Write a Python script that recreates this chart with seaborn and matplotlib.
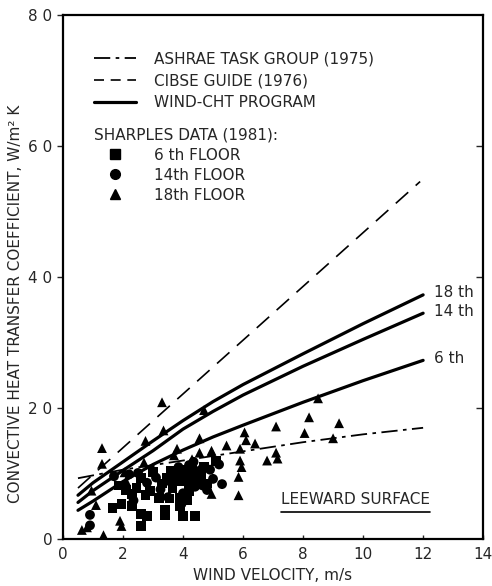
import matplotlib
matplotlib.use("Agg")
import matplotlib.pyplot as plt
import seaborn as sns
import pandas as pd
from matplotlib.lines import Line2D

# --- curves ---
ashrae_v = [0.5, 2, 4, 6, 8, 10, 12]
ashrae_h = [9.3, 10.6, 12.0, 13.4, 14.8, 16.0, 17.0]

cibse_v = [0.5, 11.9]
cibse_h = [7.8, 54.6]

cht_v = [0.5, 1, 2, 3, 4, 5, 6, 8, 10, 12]
cht_18 = [6.7, 8.6, 11.8, 15.0, 18.1, 21.0, 23.6, 28.3, 32.9, 37.3]
cht_14 = [5.6, 7.4, 10.5, 13.5, 16.8, 19.5, 22.0, 26.4, 30.5, 34.5]
cht_6 = [4.4, 5.8, 8.8, 11.4, 13.6, 15.6, 17.4, 20.9, 24.2, 27.3]

# --- Sharples data (1981) ---
f6_v = [1.65, 1.95, 2.3, 2.6, 2.8, 2.6, 3.4, 4.0, 4.4, 2.45, 2.9, 3.45, 3.3, 3.65,
        3.8, 4.0, 4.1, 4.3, 4.45, 3.2, 2.3, 2.1, 3.55, 3.9, 3.9, 4.2, 4.5, 4.7,
        3.0, 2.6, 1.85, 4.15, 4.8, 3.6, 5.1, 3.4, 4.05, 4.25, 3.75, 2.75, 4.6]
f6_h = [4.8, 5.4, 5.1, 3.8, 3.5, 2.0, 3.7, 3.5, 3.5, 7.8, 7.4, 9.4, 8.5, 7.8,
        8.9, 10.5, 8.9, 10.5, 8.9, 6.3, 6.9, 7.5, 6.2, 6.3, 5.1, 7.4, 9.6, 11.1,
        10.2, 9.3, 8.2, 6.0, 8.5, 10.4, 11.9, 4.4, 9.6, 9.2, 9.8, 6.8, 10.0]

f14_v = [0.9, 0.9, 2.35, 3.4, 2.5, 3.9, 4.2, 4.6, 5.0, 4.4, 3.6, 3.1, 5.2, 4.0,
         4.8, 2.8, 4.9, 5.3, 3.95, 3.5, 1.7, 2.2, 4.35, 3.85, 4.65, 3.25]
f14_h = [3.7, 2.1, 5.9, 4.4, 10.1, 9.9, 11.3, 10.6, 9.2, 8.0, 8.7, 9.4, 11.4, 7.0,
         7.5, 8.6, 10.6, 8.4, 5.4, 6.4, 9.6, 9.9, 11.8, 11.0, 8.2, 7.6]

f18_v = [1.3, 1.3, 0.95, 0.63, 0.8, 1.35, 3.3, 4.7, 3.35, 2.75, 2.7, 2.1, 1.9, 1.95,
         3.8, 4.55, 4.55, 4.95, 5.45, 6.05, 6.1, 6.4, 5.9, 5.9, 5.95, 5.85, 5.85,
         4.95, 7.1, 8.2, 8.05, 8.5, 9.2, 9.0, 7.1, 6.8, 7.15, 4.95, 3.0, 2.05, 1.1,
         3.7, 4.3]
f18_h = [13.9, 11.5, 7.4, 1.4, 1.8, 0.6, 20.9, 19.7, 16.6, 15.0, 11.7, 8.9, 2.8, 2.0,
         13.8, 15.4, 13.2, 13.3, 14.3, 16.3, 15.1, 14.6, 13.8, 12.0, 11.0, 9.5, 6.7,
         6.9, 17.2, 18.6, 16.2, 21.5, 17.7, 15.4, 13.2, 12.0, 12.3, 13.5, 10.8, 10.2,
         5.2, 12.8, 12.2]

y_ticks = [0, 20, 40, 60, 80]
y_ticklabels = ["0", "2 0", "4 0", "6 0", "8 0"]
x_ticks = [0, 2, 4, 6, 8, 10, 12, 14]

sns.set_theme(style="white")
plt.rcParams["font.family"] = ["DejaVu Sans"]
plt.rcParams["font.size"] = 11

fig = plt.figure(figsize=(4.92, 5.86), dpi=100)
ax = fig.add_axes([0.128, 0.080, 0.854, 0.894])

# model curves
sns.lineplot(x=ashrae_v, y=ashrae_h, ax=ax, color="black", lw=1.3,
             linestyle=(0, (9, 3, 2, 3)), estimator=None, sort=False)
sns.lineplot(x=cibse_v, y=cibse_h, ax=ax, color="black", lw=1.2,
             linestyle=(0, (10, 6)), estimator=None, sort=False)
for h in [cht_18, cht_14, cht_6]:
    sns.lineplot(x=cht_v, y=h, ax=ax, color="black", lw=2.3,
                 estimator=None, sort=False)

# measured points
df = pd.concat([
    pd.DataFrame({"v": f6_v, "h": f6_h, "floor": "6 th FLOOR"}),
    pd.DataFrame({"v": f14_v, "h": f14_h, "floor": "14th FLOOR"}),
    pd.DataFrame({"v": f18_v, "h": f18_h, "floor": "18th FLOOR"}),
])
markers = {"6 th FLOOR": "s", "14th FLOOR": "o", "18th FLOOR": "^"}
sns.scatterplot(data=df, x="v", y="h", style="floor", markers=markers,
                color="black", s=50, linewidth=0, legend=False, ax=ax)

# curve labels
for lab, h in [("18 th", cht_18), ("14 th", cht_14), ("6 th", cht_6)]:
    ax.text(cht_v[-1] + 0.35, h[-1] + 0.3, lab, ha="left", va="center", fontsize=11)

t = ax.text(9.75, 6.0, "LEEWARD SURFACE", ha="center", va="center", fontsize=11)

ax.set_xlim(0, 14)
ax.set_ylim(0, 80)
ax.set_xticks(x_ticks)
ax.set_yticks(y_ticks)
ax.set_yticklabels(y_ticklabels)
ax.set_xlabel("WIND VELOCITY, m/s", fontsize=11, labelpad=4)
ax.set_ylabel("CONVECTIVE HEAT TRANSFER COEFFICIENT, W/m² K", fontsize=11, labelpad=6)
ax.yaxis.set_label_coords(-0.095, 0.45)
ax.tick_params(axis="x", direction="in", length=3, width=1, bottom=True, labelsize=11, pad=6)
ax.tick_params(axis="y", direction="out", length=4, width=1, left=True, labelsize=11)
for sp in ax.spines.values():
    sp.set_color("black")
    sp.set_linewidth(1.6)

# inward ticks on the right-hand frame
rax = ax.secondary_yaxis("right")
rax.set_yticks(y_ticks[1:-1])
rax.tick_params(direction="in", length=5, width=1, labelright=False)
rax.spines["right"].set_visible(False)

# legends
line_handles = [
    Line2D([], [], color="black", lw=1.3, linestyle=(0, (9, 3, 2, 3))),
    Line2D([], [], color="black", lw=1.2, linestyle=(0, (6, 4))),
    Line2D([], [], color="black", lw=2.3),
]
leg1 = ax.legend(line_handles, ["ASHRAE TASK GROUP (1975)", "CIBSE GUIDE (1976)", "WIND-CHT PROGRAM"],
                 loc="upper left", bbox_to_anchor=(0.06, 0.943), frameon=False,
                 handlelength=2.7, handletextpad=1.2, labelspacing=0.45, fontsize=11,
                 borderaxespad=0)
ax.add_artist(leg1)
mk_handles = [Line2D([], [], color="black", marker=m, linestyle="none", markersize=7)
              for m in ["s", "o", "^"]]
ax.legend(mk_handles, list(markers.keys()), title="SHARPLES DATA (1981):",
          title_fontsize=11, alignment="left", loc="upper left",
          bbox_to_anchor=(0.06, 0.797), frameon=False, handlelength=2.7,
          handletextpad=1.2, labelspacing=0.33, fontsize=11, borderaxespad=0)

# underline for the surface label
fig.canvas.draw()
bb = t.get_window_extent().transformed(ax.transAxes.inverted())
ax.plot([bb.x0, bb.x1], [bb.y0 - 0.008, bb.y0 - 0.008], color="black", lw=1.2,
        transform=ax.transAxes)

fig.savefig("out.png", dpi=100)
